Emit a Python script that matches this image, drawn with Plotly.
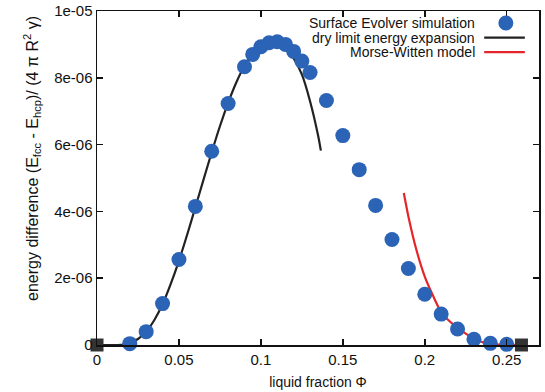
import plotly.graph_objects as go

# Surface Evolver simulation points
sim_phi = [0.02, 0.03, 0.04, 0.05, 0.06, 0.07, 0.08, 0.09, 0.095, 0.10, 0.105, 0.11,
           0.115, 0.12, 0.125, 0.13, 0.14, 0.15, 0.16, 0.17, 0.18, 0.19, 0.20, 0.21,
           0.22, 0.23, 0.24, 0.25]
sim_E = [0.04e-6, 0.40e-6, 1.24e-6, 2.56e-6, 4.15e-6, 5.80e-6, 7.23e-6, 8.33e-6, 8.70e-6,
         8.93e-6, 9.05e-6, 9.08e-6, 9.00e-6, 8.79e-6, 8.50e-6, 8.16e-6, 7.32e-6, 6.27e-6,
         5.25e-6, 4.18e-6, 3.16e-6, 2.29e-6, 1.52e-6, 0.925e-6, 0.48e-6, 0.17e-6, 0.05e-6,
         0.02e-6]

# dry limit energy expansion
dry_phi = [0.0, 0.01, 0.015, 0.02, 0.025, 0.03, 0.035, 0.04, 0.045, 0.05, 0.055, 0.06,
           0.065, 0.07, 0.075, 0.08, 0.085, 0.09, 0.095, 0.10, 0.105, 0.11, 0.115, 0.12,
           0.125, 0.13, 0.135, 0.1366]
dry_E = [0.0, 0.0, 0.005e-6, 0.06e-6, 0.18e-6, 0.40e-6, 0.75e-6, 1.22e-6, 1.83e-6, 2.52e-6,
         3.30e-6, 4.12e-6, 4.95e-6, 5.77e-6, 6.55e-6, 7.25e-6, 7.86e-6, 8.36e-6, 8.72e-6,
         8.95e-6, 9.06e-6, 9.05e-6, 8.88e-6, 8.58e-6, 8.10e-6, 7.30e-6, 6.25e-6, 5.82e-6]

# Morse-Witten model
mw_phi = [0.1872, 0.19, 0.195, 0.20, 0.205, 0.21, 0.215, 0.22, 0.225, 0.23, 0.235, 0.24,
          0.245, 0.25, 0.259]
mw_E = [4.55e-6, 3.85e-6, 2.83e-6, 2.05e-6, 1.48e-6, 0.98e-6, 0.72e-6, 0.52e-6, 0.34e-6,
        0.19e-6, 0.09e-6, 0.03e-6, 0.01e-6, 0.003e-6, 0.0]

# end markers (black squares)
end_phi = [0.0, 0.259]
end_E = [0.0, 0.0]

x_tickvals = [0, 0.05, 0.1, 0.15, 0.2, 0.25]
x_ticktext = ["0", "0.05", "0.1", "0.15", "0.2", "0.25"]
y_tickvals = [0, 2e-6, 4e-6, 6e-6, 8e-6, 1e-5]
y_ticktext = ["0", "2e-06", "4e-06", "6e-06", "8e-06", "1e-05"]

legend_names = ["Surface Evolver simulation", "dry limit energy expansion", "Morse-Witten model"]

BLUE = "#2b63b6"
BLACK = "#222222"
RED = "#e3262b"
FONT = "Liberation Sans, Arial, sans-serif"

fig = go.Figure()
fig.add_trace(go.Scatter(x=dry_phi, y=dry_E, mode="lines", name=legend_names[1],
                         line=dict(color=BLACK, width=2.2, shape="spline", smoothing=0.6),
                         cliponaxis=False))
fig.add_trace(go.Scatter(x=mw_phi, y=mw_E, mode="lines", name=legend_names[2],
                         line=dict(color=RED, width=2.2, shape="spline", smoothing=0.6),
                         cliponaxis=False))
fig.add_trace(go.Scatter(x=sim_phi, y=sim_E, mode="markers", name=legend_names[0],
                         marker=dict(color=BLUE, size=15, line=dict(width=0)),
                         cliponaxis=False))
fig.add_trace(go.Scatter(x=end_phi, y=end_E, mode="markers", showlegend=False,
                         marker=dict(color="#333333", size=13, symbol="square", line=dict(width=0)),
                         cliponaxis=False))

# legend (gnuplot style: right-aligned text, key on the right)
leg_y = [0.964, 0.920, 0.877]
for name, yy in zip(legend_names, leg_y):
    fig.add_annotation(x=0.857, y=yy, xref="paper", yref="paper", text=name,
                       showarrow=False, xanchor="right", yanchor="middle", borderpad=0,
                       font=dict(family=FONT, size=14, color="#111111"))
fig.add_shape(type="circle", xref="paper", yref="paper", xsizemode="pixel", ysizemode="pixel",
              xanchor=0.925, yanchor=leg_y[0], x0=-7.5, x1=7.5, y0=-7.5, y1=7.5,
              fillcolor=BLUE, line=dict(width=0))
fig.add_shape(type="line", xref="paper", yref="paper", x0=0.876, x1=0.968,
              y0=leg_y[1], y1=leg_y[1], line=dict(color=BLACK, width=2.2))
fig.add_shape(type="line", xref="paper", yref="paper", x0=0.876, x1=0.968,
              y0=leg_y[2], y1=leg_y[2], line=dict(color=RED, width=2.2))

# y-axis title
fig.add_annotation(x=-0.147, y=0.557, xref="paper", yref="paper",
                   text="energy difference (E<sub>fcc</sub> - E<sub>hcp</sub>)/ (4 π R<sup>2</sup> γ)",
                   textangle=-90, showarrow=False, xanchor="center", yanchor="middle",
                   font=dict(family=FONT, size=16, color="#111111"))

fig.update_layout(
    width=545, height=392,
    margin=dict(l=97, r=6, t=11, b=47, autoexpand=False),
    paper_bgcolor="white", plot_bgcolor="white",
    showlegend=False, hovermode=False,
    font=dict(family=FONT, size=15, color="#111111"),
    xaxis=dict(range=[0, 0.2697], tickvals=x_tickvals, ticktext=x_ticktext,
               ticks="inside", ticklen=6, tickwidth=1.5, tickcolor="#111111",
               showline=True, linecolor="#111111", linewidth=1.5, mirror="ticks",
               showgrid=False, zeroline=False, automargin=False,
               title=dict(text="liquid fraction Φ", standoff=10,
                          font=dict(family=FONT, size=14))),
    yaxis=dict(range=[0, 1e-5], tickvals=y_tickvals, ticktext=y_ticktext,
               ticks="inside", ticklen=6, tickwidth=1.5, tickcolor="#111111",
               showline=True, linecolor="#111111", linewidth=1.5, mirror="ticks",
               showgrid=False, zeroline=False, automargin=False),
)

# remove the browser's default 8px page margin so the figure fills the window exactly
fig.write_html("out.html",
               config={"displayModeBar": False, "staticPlot": True},
               post_script="document.body.style.margin='0px';document.body.style.overflow='hidden';")
